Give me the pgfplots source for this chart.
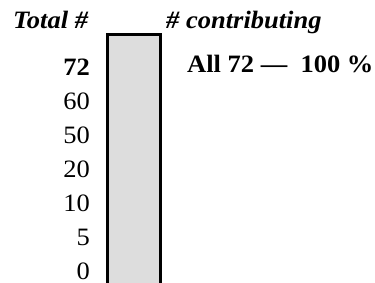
\documentclass[border=0pt]{standalone}
\usepackage{fontspec}
\setmainfont{Liberation Serif}[FakeStretch=1.06]
\usepackage{pgfplots}
\pgfplotsset{compat=1.18}
\definecolor{barfill}{HTML}{DDDDDD}
\begin{document}
\begin{tikzpicture}
\useasboundingbox (0pt,0pt) rectangle (375pt,283pt);
\begin{axis}[
  at={(107.5pt,-2.1pt)}, anchor=south west,
  scale only axis, width=52.8pt, height=250.1pt,
  xmin=0, xmax=1, ymin=-0.4, ymax=6.94,
  clip=false,
  axis line style={draw=none},
  xtick=\empty,
  ytick={0,1,2,3,4,5,6},
  yticklabels={0,5,10,20,50,60,\textbf{72}},
  major tick length=0pt,
  yticklabel style={font=\fontsize{25}{30}\selectfont, inner sep=0pt, anchor=east, xshift=-17.5pt},
]
\addplot[fill=barfill, draw=none] coordinates {(0,-0.4) (0,6.94) (1,6.94) (1,-0.4)} -- cycle;
\addplot[black, line width=3pt, line join=miter] coordinates {(0,-0.4) (0,6.94) (1,6.94) (1,-0.4)};
\end{axis}
\node[anchor=base west, inner sep=0pt, font=\fontsize{25}{30}\selectfont\bfseries\itshape] at (13pt,254pt) {Total \#};
\node[anchor=base west, inner sep=0pt, font=\fontsize{25}{30}\selectfont\bfseries\itshape] at (166pt,254pt) {\# contributing};
\node[anchor=base west, inner sep=0pt, font=\fontsize{25}{30}\selectfont\bfseries] at (187pt,210pt) {All 72 ---\ \ 100 \%};
\end{tikzpicture}
\end{document}
